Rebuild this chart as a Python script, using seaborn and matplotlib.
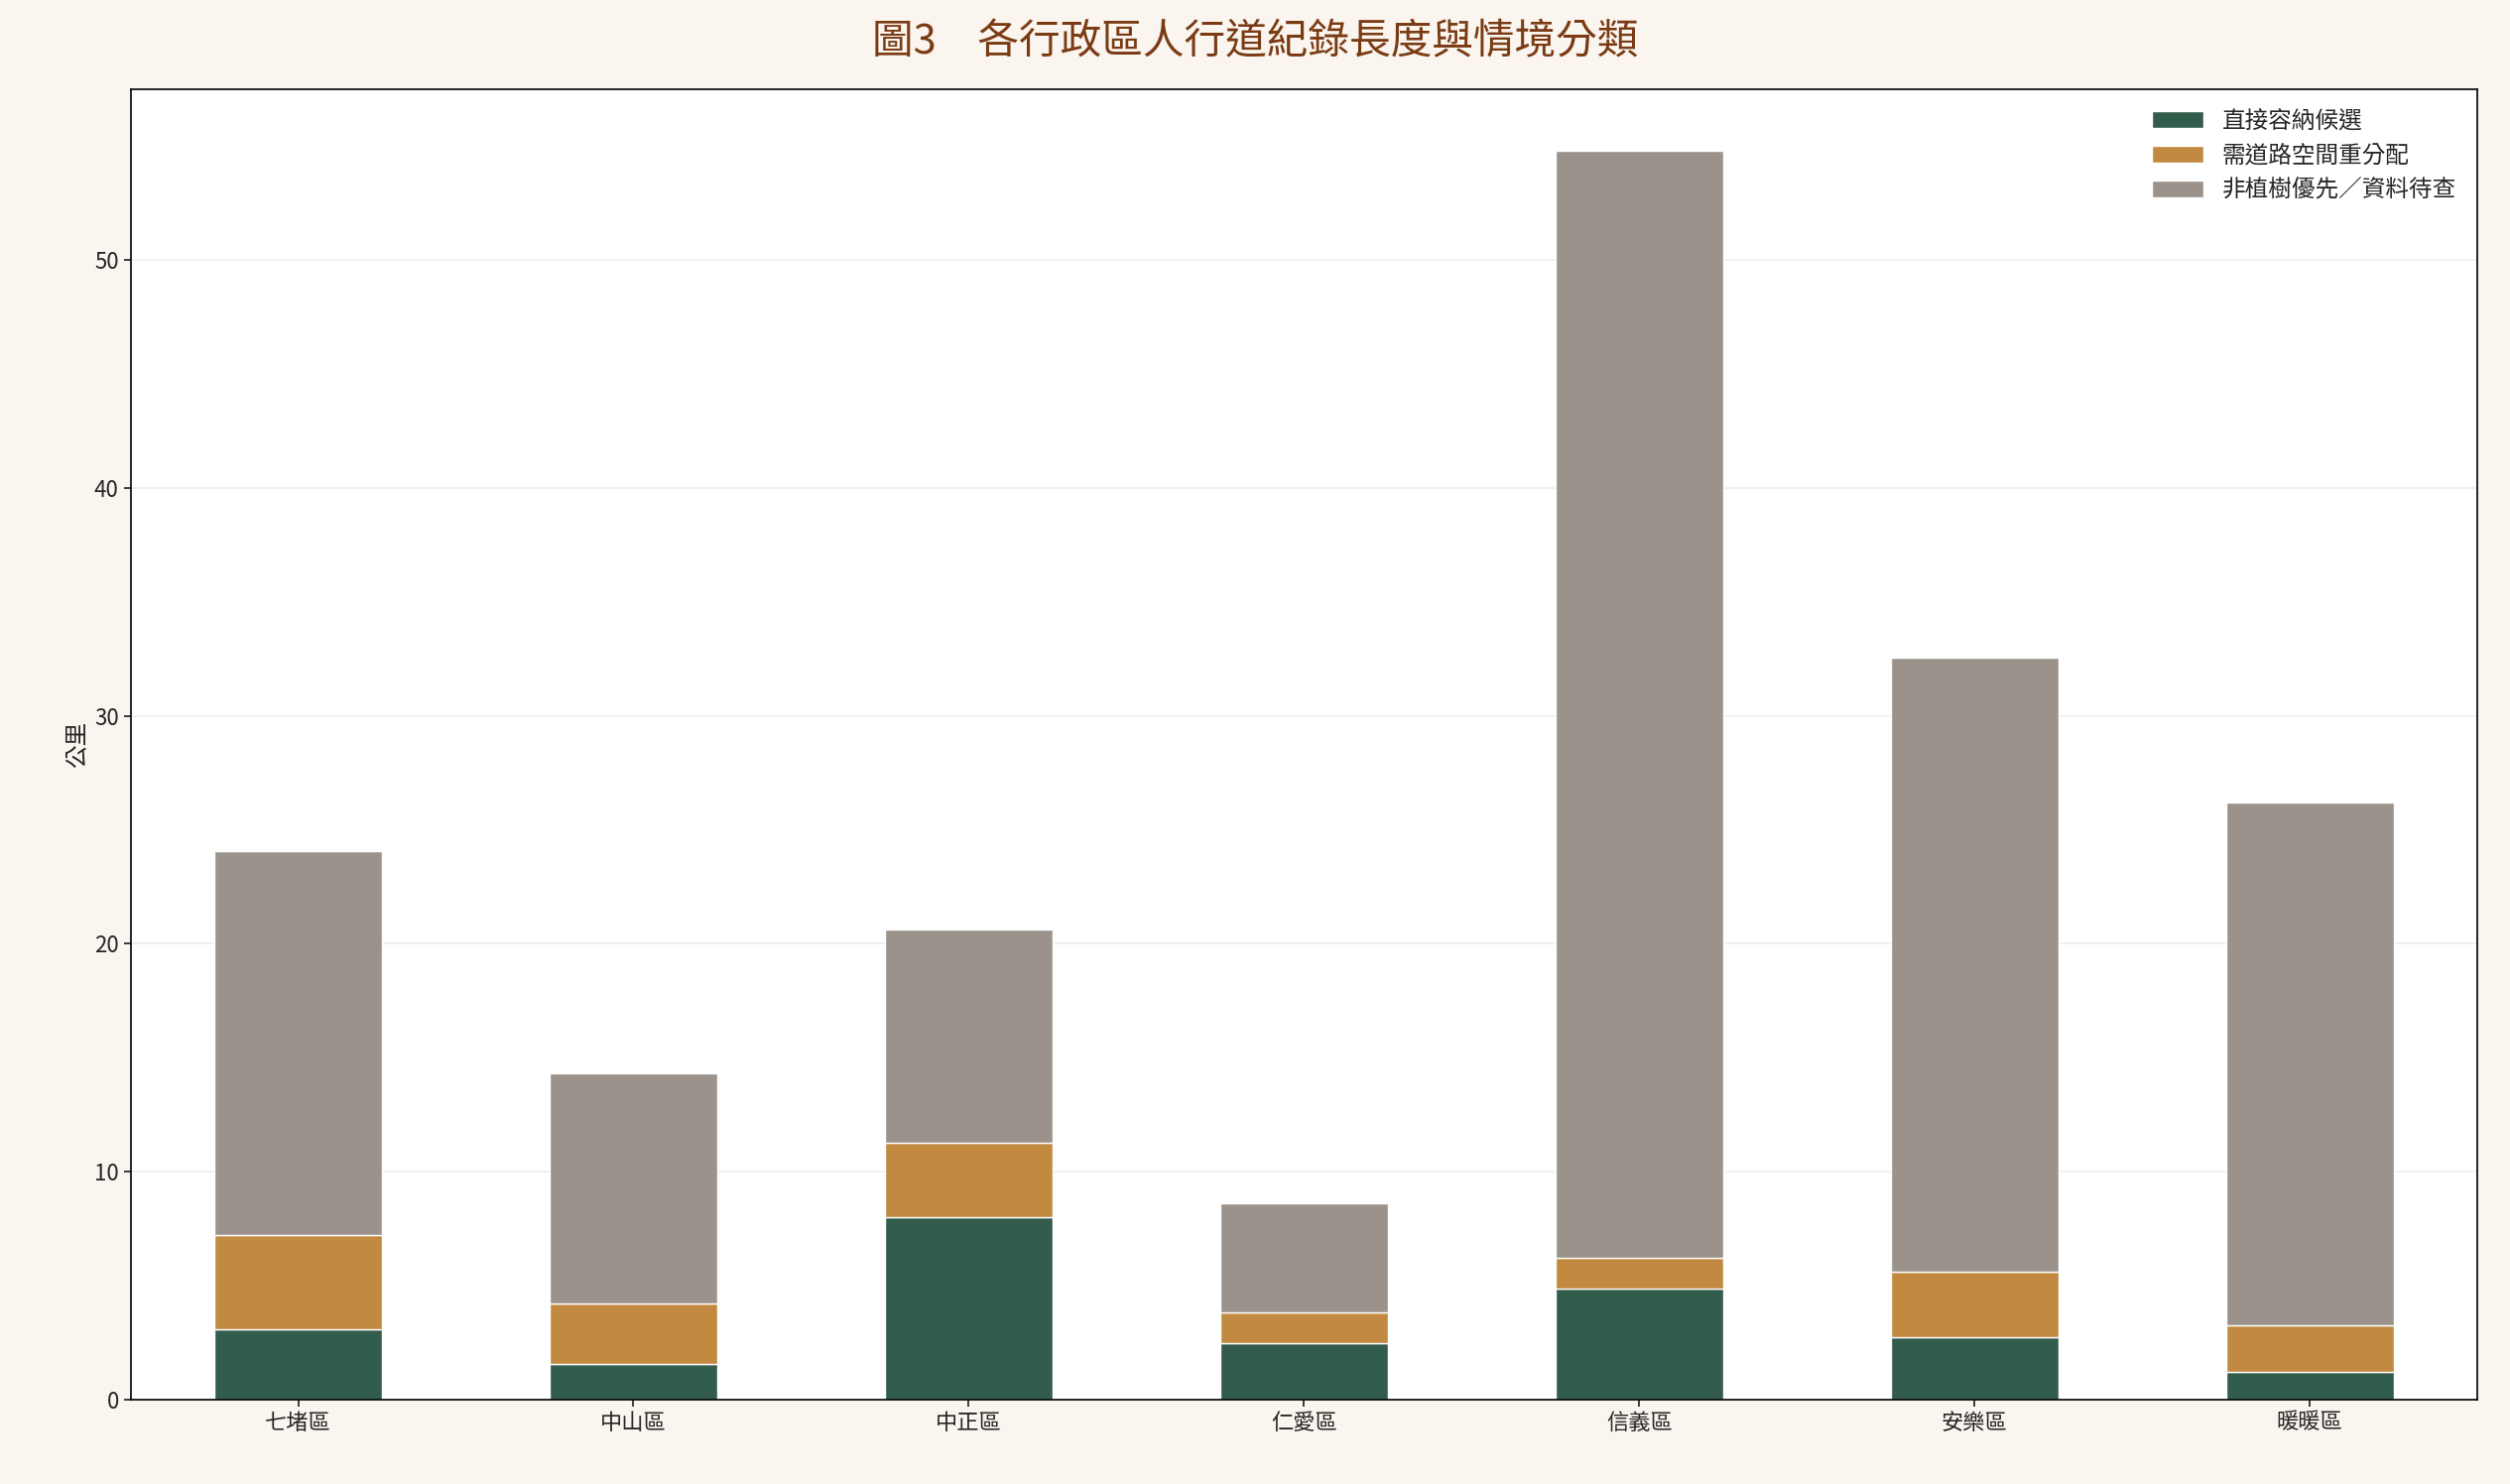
import matplotlib
matplotlib.use("Agg")
import matplotlib.pyplot as plt
import seaborn as sns
import numpy as np
import pandas as pd

districts = ["七堵區", "中山區", "中正區", "仁愛區", "信義區", "安樂區", "暖暖區"]
direct = [3.1, 1.55, 8.0, 2.45, 4.85, 2.75, 1.2]
realloc = [4.1, 2.65, 3.25, 1.35, 1.35, 2.85, 2.05]
other = [16.85, 10.1, 9.35, 4.8, 48.6, 26.95, 22.95]
labels = ["直接容納候選", "需道路空間重分配", "非植樹優先／資料待查"]
colors = ["#325c4b", "#c28a40", "#9b938b"]

sns.set_theme(style="white")
plt.rcParams['font.family'] = ['Noto Sans CJK TC', 'DejaVu Sans']

fig = plt.figure(figsize=(25.3, 14.96), dpi=100, facecolor="#faf5ee")
ax = fig.add_axes([0.052, 0.057, 0.935, 0.883])
ax.set_facecolor("white")

df = pd.DataFrame({"d": districts, "a": direct, "b": realloc, "c": other})
bottom = np.zeros(len(districts))
for col, lab, c in zip(["a", "b", "c"], labels, colors):
    sns.barplot(data=df, x="d", y=col, bottom=bottom, color=c, width=0.5,
                label=lab, ax=ax, saturation=1)
    bottom = bottom + df[col].values

ax.set_ylim(0, 57.5)
ax.set_xlim(-0.5, 6.5)
ax.set_xlabel("")
ax.set_ylabel("公里", fontsize=17)
ax.set_yticks([0, 10, 20, 30, 40, 50])
ax.tick_params(axis="both", labelsize=16, length=5, left=True, bottom=True)
ax.yaxis.grid(True, color="#eeeeee", linewidth=1.2)
ax.set_axisbelow(True)
for s in ax.spines.values():
    s.set_color("black"); s.set_linewidth(1.2)
ax.legend(loc="upper right", frameon=False, fontsize=17, handlelength=2.2)
fig.suptitle("圖3　各行政區人行道紀錄長度與情境分類", fontsize=30, color="#7a3b14", y=0.985)
fig.savefig("out.png", dpi=100, facecolor=fig.get_facecolor())
